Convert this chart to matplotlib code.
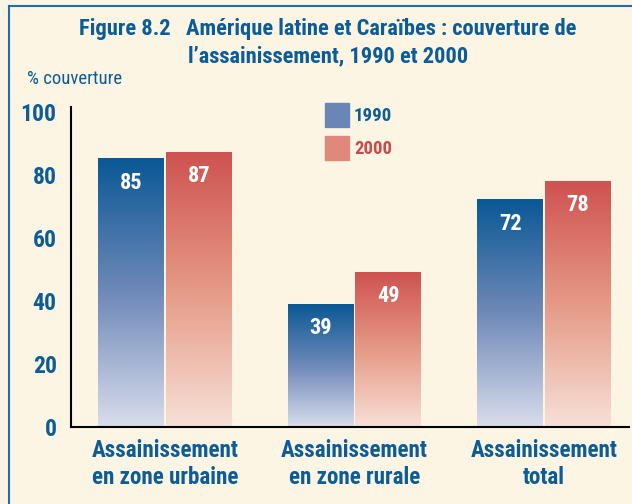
import numpy as np
import matplotlib
matplotlib.use("Agg")
import matplotlib.pyplot as plt
from matplotlib.colors import LinearSegmentedColormap
from matplotlib.lines import Line2D
from matplotlib.patches import Rectangle

# Données
categories = ["Assainissement\nen zone urbaine", "Assainissement\nen zone rurale", "Assainissement\ntotal"]
years = ["1990", "2000"]
values_1990 = [85, 39, 72]
values_2000 = [87, 49, 78]
yticks = [0, 20, 40, 60, 80, 100]

# Couleurs
bg = "#fdf5e3"
txt_blue = "#0b5c97"
txt_red = "#c94b48"
blue_cmap = LinearSegmentedColormap.from_list("b", ["#d9ddec", "#6f89b8", "#0a5895"])
red_cmap = LinearSegmentedColormap.from_list("r", ["#f7e0d7", "#e59a86", "#cf5250"])

plt.rcParams["font.family"] = ["Roboto Condensed", "DejaVu Sans"]

fig = plt.figure(figsize=(6.32, 5.04), dpi=100, facecolor=bg)
ax = fig.add_axes([0.1116, 0.1528, 0.8834, 0.635])
ax.set_facecolor(bg)

x = np.arange(len(categories))
w = 0.348
off = 0.178
grad = np.linspace(0, 1, 256).reshape(-1, 1)

# barres avec dégradé vertical
for vals, cmap, dx in [(values_1990, blue_cmap, -off), (values_2000, red_cmap, off)]:
    bars = ax.bar(x + dx, vals, w, color="none", edgecolor="none")
    for b, v in zip(bars, vals):
        x0, x1 = b.get_x(), b.get_x() + b.get_width()
        ax.imshow(grad, cmap=cmap, origin="lower", aspect="auto",
                  extent=[x0, x1, 0, v], zorder=2)
        ax.annotate(str(v), (b.get_x() + b.get_width() / 2, v), xytext=(0, -17),
                    textcoords="offset points", ha="center", va="center",
                    color="white", fontsize=16, fontweight="bold", zorder=3)

ax.set_xlim(-0.499, 2.449)
ax.set_ylim(0, 101.5)
ax.set_yticks(yticks)
ax.set_yticklabels([str(t) for t in yticks], fontsize=17, fontweight="bold", color=txt_blue)
ax.set_xticks(x)
ax.set_xticklabels(categories, fontsize=16.6, fontweight="bold", color=txt_blue, linespacing=1.22)
ax.tick_params(axis="y", length=0, pad=10)
ax.tick_params(axis="x", length=0, pad=9)
for s in ["top", "right"]:
    ax.spines[s].set_visible(False)
for s in ["left", "bottom"]:
    ax.spines[s].set_linewidth(1.5)
    ax.spines[s].set_color("black")

# Légende
ax_leg = fig.add_axes([0, 0, 1, 1], facecolor="none")
ax_leg.set_axis_off()
ax_leg.set_xlim(0, 632)
ax_leg.set_ylim(504, 0)
ax_leg.add_patch(Rectangle((325, 103), 24, 24, color="#6a86b6"))
ax_leg.add_patch(Rectangle((325, 136), 24, 24, color="#e0897a"))
ax_leg.text(354, 116, years[0], color=txt_blue, fontsize=13.5, fontweight="bold", va="center")
ax_leg.text(354, 149, years[1], color=txt_red, fontsize=13.5, fontweight="bold", va="center")

# Titre
ax_leg.text(328, 43, "Figure 8.2   Amérique latine et Caraïbes : couverture de\nl\u2019assainissement, 1990 et 2000",
            ha="center", va="center", color=txt_blue, fontsize=16.2, fontweight="bold", linespacing=1.32)
ax_leg.text(27, 79, "% couverture", color=txt_blue, fontsize=13.5, va="center")

# Cadre
ax_leg.add_line(Line2D([9, 9], [6, 504], color="#1f6db0", lw=1.5))
ax_leg.add_line(Line2D([9, 632], [6, 6], color="#1f6db0", lw=1.5))

fig.savefig("out.png", dpi=100, facecolor=bg)
